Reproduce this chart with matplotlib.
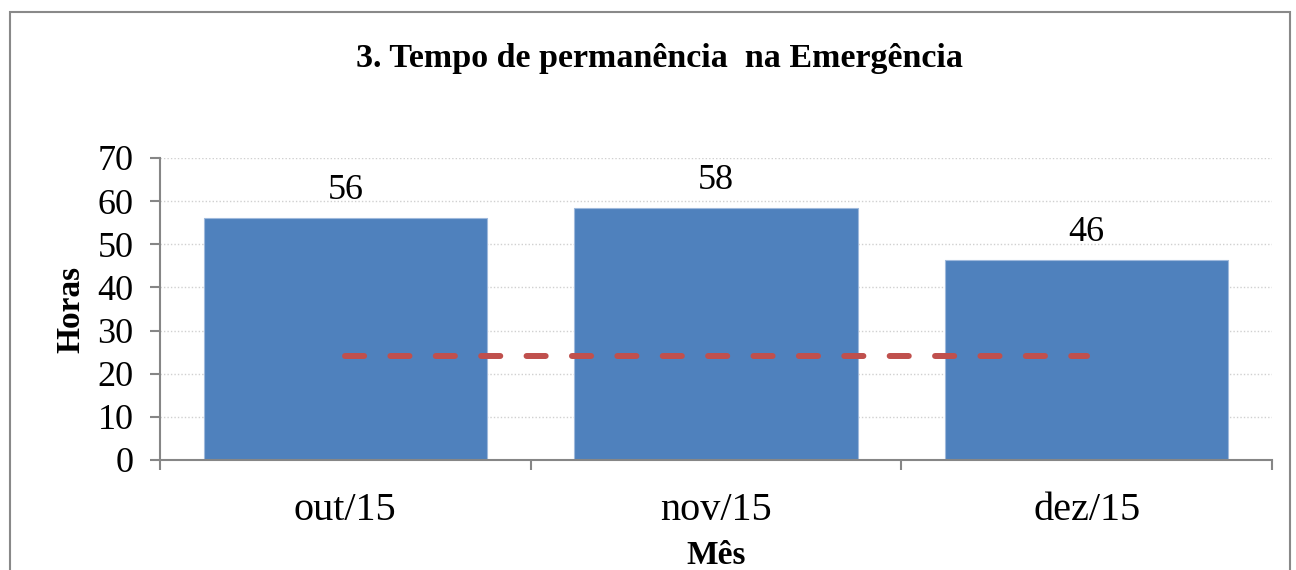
import matplotlib
matplotlib.use("Agg")
import matplotlib.pyplot as plt
from matplotlib.patches import Rectangle

categories = ["out/15", "nov/15", "dez/15"]
horas = [56, 58.4, 46.4]
bar_labels = ["56", "58", "46"]
meta = [24, 24, 24]
yticks = [0, 10, 20, 30, 40, 50, 60, 70]

plt.rcParams['font.family'] = ['Liberation Serif', 'DejaVu Serif']

fig = plt.figure(figsize=(12.96, 5.70), dpi=100)
ax = fig.add_axes([160/1296, 1-460/570, (1272-160)/1296, (460-158)/570])

# figure border
fig.patches.append(Rectangle((10/1296, -0.1), 1280/1296, 1.1 - 12/570,
                             transform=fig.transFigure, fill=False,
                             edgecolor='#898989', linewidth=1.5, zorder=0))

x = list(range(len(categories)))
ax.set_axisbelow(True)
ax.yaxis.grid(True, color='#d0d0d0', linestyle=(0, (1, 1.5)), linewidth=1.0)
ax.bar(x, horas, width=0.765, color='#4F81BD', edgecolor='#9fb9dc', linewidth=0.8, zorder=2)
ax.plot(x, meta, color='#C0504D', linewidth=4.3, linestyle=(0, (3.2, 4.4)),
        solid_capstyle='round', dash_capstyle='round', zorder=3)

for xi, v, lab in zip(x, horas, bar_labels):
    ax.annotate(lab, (xi, v), xytext=(0, 8), textcoords='offset points',
                ha='center', va='bottom', fontsize=26)

ax.set_xlim(-0.5, 2.5)
ax.set_ylim(0, 70)
ax.set_yticks(yticks)
ax.set_xticks([-0.5, 0.5, 1.5, 2.5])
ax.set_xticklabels([])
ax.set_xticks(x, minor=True)
ax.set_xticklabels(categories, minor=True, fontsize=29)
ax.tick_params(axis='x', which='minor', length=0, pad=23)
ax.tick_params(axis='x', which='major', length=7, width=1.5, color='#868686', direction='out')
ax.tick_params(axis='y', length=7, width=1.5, color='#868686', labelsize=26, pad=12)

for s in ['top', 'right']:
    ax.spines[s].set_visible(False)
for s in ['left', 'bottom']:
    ax.spines[s].set_color('#868686')
    ax.spines[s].set_linewidth(1.5)

ax.set_ylabel("Horas", fontsize=24, fontweight='bold', labelpad=8)
fig.text(716/1296, 1-555/570, "Mês", ha='center', va='center', fontsize=24, fontweight='bold')
fig.text(660/1296, 1-58/570, "3. Tempo de permanência  na Emergência", ha='center', va='center',
         fontsize=24.5, fontweight='bold')

fig.savefig("out.png", dpi=100)
